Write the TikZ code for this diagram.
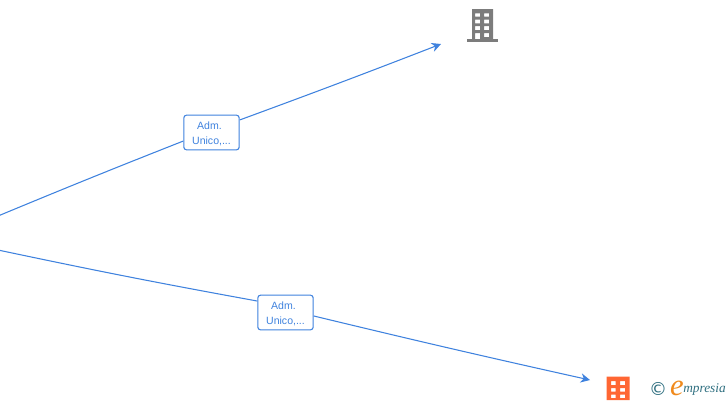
\documentclass[tikz,border=0pt]{standalone}
\usepackage{fontspec}
\setmainfont{Liberation Sans}
\newfontfamily\logofont{Liberation Serif}
\newfontfamily\copyfont{DejaVu Sans}
\definecolor{linkblue}{HTML}{3F82DE}
\definecolor{iconGray}{HTML}{7C7C7C}
\definecolor{iconOrange}{HTML}{FF6633}
\definecolor{logoTeal}{HTML}{2F6F80}
\definecolor{logoOrange}{HTML}{F08A1D}
\usetikzlibrary{arrows.meta}
\tikzset{
  link/.style={draw=linkblue,line width=0.8pt,-{Stealth[length=7pt,width=7pt]}},
  linkplain/.style={draw=linkblue,line width=0.8pt},
  tag/.style={draw=linkblue,fill=white,rounded corners=2pt,line width=0.8pt,minimum width=41.5pt,minimum height=26pt,inner sep=0pt,text=linkblue,font=\fontsize{7.9}{10.8}\selectfont},
  taglabel/.style={inner sep=0pt,text=linkblue,font=\fontsize{7.9}{10.8}\selectfont},
}
\begin{document}
\begin{tikzpicture}[x=0.75pt,y=-0.75pt]
\useasboundingbox (0,0) rectangle (728,400);
\coordinate (src1) at (-2,216);
\coordinate (src2) at (-2,250);
\coordinate (end1) at (441,44);
\coordinate (end2) at (590,380);
\node[tag] (t1) at (211.5,132.5) {};
\node[tag] (t2) at (285.5,312.5) {};
\node[taglabel] (t1a) at (209.5,126) {Adm.};
\node[taglabel] (t1b) at (211.5,141) {Unico,...};
\node[taglabel] (t2a) at (283.5,306) {Adm.};
\node[taglabel] (t2b) at (285.5,321) {Unico,...};
\coordinate (t1in) at ([yshift=-6.4pt]t1.west);
\coordinate (t1out) at ([yshift=9.4pt]t1.east);
\coordinate (t2in) at ([yshift=8.6pt]t2.west);
\coordinate (t2out) at ([yshift=-2.6pt]t2.east);
\draw[linkplain] (src1) to[bend left=0.5] (t1in);
\draw[link] (t1out) to[bend left=-0.5] (end1);
\draw[linkplain] (src2) to[bend left=-0.8] (t2in);
\draw[link] (t2out) to[bend left=-0.5] (end2);
% grey building
\fill[iconGray,even odd rule]
 (472,9) rectangle (493,39)
 (475,13.3) rectangle (480,16.7) (484,13.3) rectangle (489,16.7)
 (475,19.5) rectangle (480,23.3) (484,19.5) rectangle (489,23.3)
 (475,26) rectangle (480,30) (484,26) rectangle (489,30)
 (475,33) rectangle (480,39) (484,33) rectangle (489,37);
\fill[iconGray] (467,39) rectangle (498,42);
% orange building
\fill[iconOrange,even odd rule]
 (606.5,376.5) rectangle (629.5,400)
 (611,381) rectangle (615.5,385) (620,381) rectangle (625,385)
 (611,388) rectangle (615.5,391.5) (620,388) rectangle (625,391.5)
 (611,394.5) rectangle (615.5,398) (620,394.5) rectangle (625,398);
% logo
\node[inner sep=0pt,text=logoTeal,font=\copyfont\fontsize{13.5}{13.5}\selectfont] (copy) at (658,388.5) {©};
\node[inner sep=0pt,text=logoOrange,font=\logofont\itshape\fontsize{23}{23}\selectfont] (logoe) at (677,388) {e};
\node[inner sep=0pt,anchor=west,text=logoTeal,font=\logofont\itshape\fontsize{10}{10}\selectfont] (logor) at (683,389.5) {mpresia};
\end{tikzpicture}
\end{document}
